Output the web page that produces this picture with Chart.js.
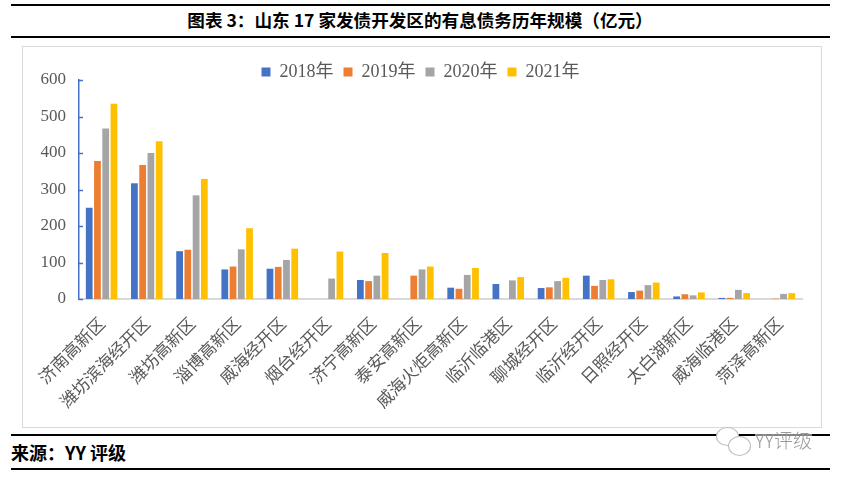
<!DOCTYPE html>
<html>
<head>
<meta charset="utf-8">
<script src="https://cdn.jsdelivr.net/npm/chart.js@4"></script>
<style>
    body { margin: 0; background: #fff; width: 846px; height: 480px; position: relative; overflow: hidden; }
    .rule { position: absolute; left: 11px; width: 819px; height: 2px; background: #000; }
    .title { position: absolute; left: 0; top: 8px; width: 840px; text-align: center; font: bold 17.6px "Noto Sans CJK SC", sans-serif; color: #000; line-height: 24px; }
    .box { position: absolute; left: 22px; top: 46px; width: 798px; height: 380px; border: 1px solid #d9d9d9; }
    .source { position: absolute; left: 11px; top: 439px; font: bold 18px "Noto Sans CJK SC", sans-serif; color: #000; line-height: 26px; }
    .mark { position: absolute; left: 755px; top: 428px; font: 300 19px "Noto Sans CJK SC", sans-serif; color: #9a9a9a; background: rgba(255,255,255,0.5); line-height: 24px; }
    .bubble { position: absolute; border: 1px solid #bdbdbd; border-radius: 50%; background: #fff; }
</style>
</head>
<body>
<div class="rule" style="top:4px"></div>
<div class="title">图表 3：山东 17 家发债开发区的有息债务历年规模（亿元）</div>
<div class="rule" style="top:36px"></div>
<div class="box"><canvas id="chart" width="798" height="380"></canvas></div>
<div class="rule" style="top:434px"></div>
<div class="rule" style="top:468px"></div>
<div class="source">来源：YY 评级</div>
<div class="bubble" style="left:716px;top:427px;width:21px;height:17px"></div>
<div class="bubble" style="left:728px;top:436px;width:21px;height:18px"></div>
<div class="mark">YY评级</div>

<script>
// 山东 17 家发债开发区有息债务（亿元）
const categories = ['济南高新区', '潍坊滨海经开区', '潍坊高新区', '淄博高新区', '威海经开区', '烟台经开区',
    '济宁高新区', '泰安高新区', '威海火炬高新区', '临沂临港区', '聊城经开区', '临沂经开区',
    '日照经开区', '太白湖新区', '威海临港区', '菏泽高新区'];
const years = ['2018年', '2019年', '2020年', '2021年'];
const v2018 = [250, 317, 131, 81, 83, null, 52, null, 31, 41, 30, 64, 19, 7, 3, null];
const v2019 = [378, 367, 135, 89, 88, null, 49, 64, 28, null, 32, 36, 23, 13, 3, 1];
const v2020 = [467, 400, 284, 136, 107, 56, 64, 81, 66, 51, 49, 52, 38, 10, 25, 14];
const v2021 = [535, 432, 329, 194, 138, 130, 126, 89, 85, 60, 58, 54, 45, 18, 16, 16];
const yTicks = [0, 100, 200, 300, 400, 500, 600];

const colors = ['#4472C4', '#ED7D31', '#A5A5A5', '#FFC000'];
const series = [v2018, v2019, v2020, v2021];

// y 轴内侧小刻度
const innerTicks = {
    id: 'innerTicks',
    afterDatasetsDraw(chart) {
        const y = chart.scales.y;
        const ctx = chart.ctx;
        ctx.save();
        ctx.strokeStyle = '#4472C4';
        ctx.lineWidth = 1.5;
        yTicks.forEach(function(t) {
            const py = Math.round(y.getPixelForValue(t)) + 0.5;
            ctx.beginPath();
            ctx.moveTo(y.right, py);
            ctx.lineTo(y.right + 4, py);
            ctx.stroke();
        });
        ctx.restore();
    }
};

new Chart(document.getElementById('chart'), {
    type: 'bar',
    data: {
        labels: categories,
        datasets: series.map(function(data, i) {
            return {
                label: years[i],
                data: data,
                backgroundColor: colors[i],
                borderWidth: 0,
                categoryPercentage: 0.73,
                barPercentage: 0.82
            };
        })
    },
    options: {
        responsive: false,
        animation: false,
        layout: { padding: { top: 6, right: 19, left: 16, bottom: 0 } },
        plugins: {
            legend: {
                position: 'top',
                maxHeight: 27,
                labels: {
                    boxWidth: 9,
                    boxHeight: 9,
                    padding: 10,
                    color: '#595959',
                    font: { family: '"Liberation Serif", "Noto Sans CJK SC"', size: 18 }
                }
            },
            tooltip: { enabled: false }
        },
        scales: {
            x: {
                grid: { display: false, drawTicks: false },
                border: { color: '#d9d9d9', width: 2 },
                ticks: {
                    autoSkip: false,
                    minRotation: 45,
                    maxRotation: 45,
                    padding: 14,
                    color: '#595959',
                    font: { family: '"Noto Sans CJK SC"', size: 17 }
                },
                afterFit: function(scale) { scale.height = 128; }
            },
            y: {
                min: 0,
                max: 600,
                grid: { display: false, drawTicks: false },
                border: { color: '#4472C4', width: 1.5 },
                afterBuildTicks: function(scale) {
                    scale.ticks = yTicks.map(function(v) { return { value: v }; });
                },
                ticks: {
                    padding: 13,
                    color: '#595959',
                    font: { family: '"Liberation Serif"', size: 17 }
                },
                afterFit: function(scale) { scale.width = 40; }
            }
        }
    },
    plugins: [innerTicks]
});
</script>
</body>
</html>
